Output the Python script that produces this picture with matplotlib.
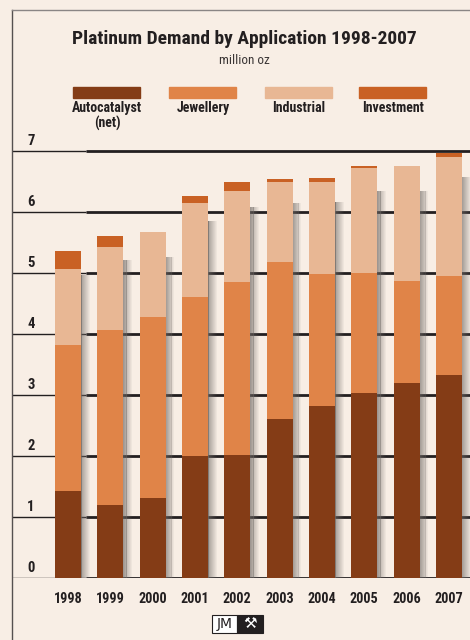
import matplotlib
matplotlib.use("Agg")
import matplotlib.pyplot as plt
import numpy as np
from matplotlib.patches import Rectangle

years = ["1998", "1999", "2000", "2001", "2002", "2003", "2004", "2005", "2006", "2007"]
autocatalyst = [1.43, 1.20, 1.31, 2.00, 2.02, 2.61, 2.82, 3.03, 3.20, 3.33]
jewellery = [2.39, 2.87, 2.97, 2.61, 2.83, 2.57, 2.16, 1.97, 1.67, 1.62]
industrial = [1.25, 1.36, 1.39, 1.54, 1.49, 1.31, 1.51, 1.72, 1.88, 1.95]
investment = [0.29, 0.18, 0.00, 0.11, 0.15, 0.05, 0.07, 0.03, 0.00, 0.07]
series_names = ["Autocatalyst\n(net)", "Jewellery", "Industrial", "Investment"]
yticks = [0, 1, 2, 3, 4, 5, 6, 7]

colors = ["#843c16", "#e08448", "#e8b794", "#c96124"]
bg = "#f8eee5"
ink = "#231f20"

plt.rcParams["font.family"] = ["Roboto Condensed", "DejaVu Sans"]

W, H = 470, 640
fig = plt.figure(figsize=(W / 100, H / 100), dpi=100, facecolor=bg)

# axes: left edge at px 12, y=0 at px 578, 61 px per unit
ppu = 61
ymax = 7.2
ax = fig.add_axes([12 / W, (H - 578) / H, 1 - 12 / W, ymax * ppu / H])
ax.set_facecolor(bg)
x = np.arange(len(years))
xpx = 42.33
ax.set_xlim(-56 / xpx, 9 + 21 / xpx)
ax.set_ylim(0, ymax)
for s in ax.spines.values():
    s.set_visible(False)
ax.set_xticks([]); ax.set_yticks([])

# gridlines: thin at the far left, heavier under the bars
split = (86 - 68) / xpx
for v in yticks:
    ax.plot([-56 / xpx, split], [v, v], color=ink, lw=1.0, zorder=1, solid_capstyle="butt")
    ax.plot([split, 9 + 21 / xpx], [v, v], color=ink, lw=2.0, zorder=1, solid_capstyle="butt")
    ax.text(-0.874, v + 0.17, str(v), ha="center", va="center", fontsize=10.5,
            fontweight="bold", color=ink)

width = 26 / xpx
totals = np.array(autocatalyst) + np.array(jewellery) + np.array(industrial) + np.array(investment)

# soft shadows to the right of each bar
for k in range(10):
    off = width / 2 + (k + 0.5) * 0.9 / xpx
    ax.bar(x + off - 0.9 / xpx / 2, totals - 0.25, width=1.0 / xpx, bottom=-0.15,
           color="#6e6864", alpha=0.65 * (1 - k / 10), lw=0, zorder=2)

bottom = np.zeros(len(years))
for vals, c in zip([autocatalyst, jewellery, industrial, investment], colors):
    ax.bar(x, vals, width=width, bottom=bottom, color=c, edgecolor="none", zorder=3)
    bottom += np.array(vals)

for i, yr in enumerate(years):
    ax.text(i, -0.345, yr, ha="center", va="center", fontsize=10.2, fontweight="bold", color=ink,
            clip_on=False)

# frame
fig.add_artist(plt.Line2D([12 / W, 12 / W], [0, 1 - 10 / H], color="#555050", lw=1.0))
fig.add_artist(plt.Line2D([12 / W, 1], [1 - 10 / H, 1 - 10 / H], color="#8a8585", lw=1.0))

# titles
fig.text(244 / W, 1 - 39 / H, "Platinum Demand by Application 1998-2007", ha="center", va="center",
         fontsize=14, fontweight="bold", color=ink)
fig.text(244 / W, 1 - 61 / H, "million oz", ha="center", va="center", fontsize=9.5, color="#3a3535")

# legend
lx = [73, 169, 265, 359]
for px, name, c in zip(lx, series_names, colors):
    fig.add_artist(Rectangle((px / W, 1 - 98 / H), 67 / W, 11 / H, color=c, transform=fig.transFigure))
    fig.text((px + 34) / W, 1 - 101 / H, name, ha="center", va="top", fontsize=10,
             fontweight="bold", color=ink, linespacing=1.05)

# JM logo
fig.add_artist(Rectangle((212 / W, 1 - 633 / H), 25 / W, 18 / H, facecolor="white", edgecolor=ink,
                         lw=0.8, transform=fig.transFigure))
fig.text(224.5 / W, 1 - 624 / H, "JM", ha="center", va="center", fontsize=10, color=ink,
         family="DejaVu Sans")
fig.add_artist(Rectangle((237 / W, 1 - 633 / H), 26 / W, 18 / H, facecolor=ink, edgecolor=ink,
                         lw=0.8, transform=fig.transFigure))
fig.text(250 / W, 1 - 624 / H, "\u2692", ha="center", va="center", fontsize=11, color="white",
         family="DejaVu Sans")

fig.savefig("out.png", dpi=100, facecolor=bg)
